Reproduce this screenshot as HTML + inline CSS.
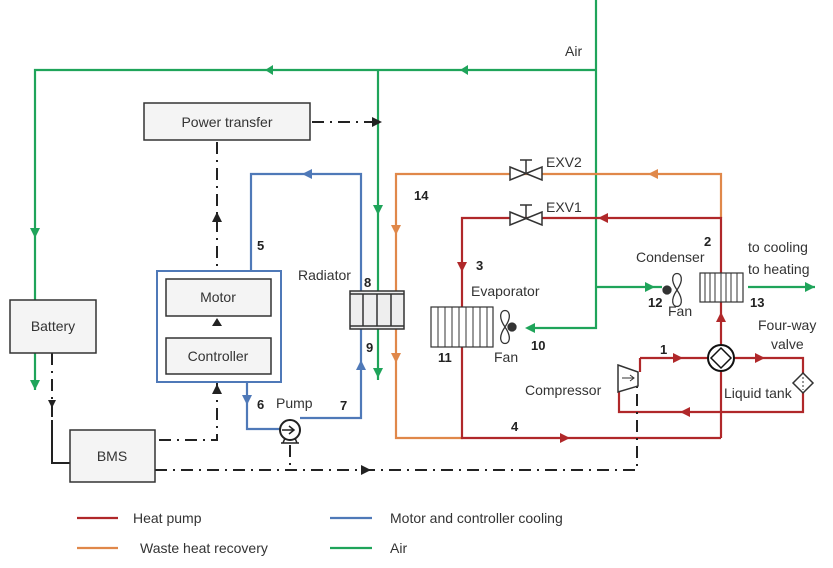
<!DOCTYPE html>
<html><head><meta charset="utf-8"><style>
body{margin:0;background:#fff}
svg{display:block;font-family:"Liberation Sans",sans-serif}
.b{fill:#f4f4f4;stroke:#333;stroke-width:1.5}
</style></head><body>
<svg width="833" height="568" viewBox="0 0 833 568">
<g fill="none" stroke-width="2.2">
<path d="M596,0 V328 H530 M596,287 H662 M596,70 H35 V390 M378,70 V380 M748,287 H815" stroke="#1fa45a"/>
<path d="M721,218 V174 H396 V438 H463" stroke="#e0884a"/>
<path d="M721,438 V218 H462 V438 H721 M640,358 H803 V412 H619 V392 M640,358 V372" stroke="#b0282a"/>
<path d="M251,271 V174 H361 V418 H300 M247,382 V429 H282" stroke="#4f79b8"/>
<g stroke="#222" stroke-width="2" stroke-dasharray="12,6,2,6">
<path d="M312,122 H372 M217,142 V268 M217,382 V440 H155 M155,470 H637 V380 M290,445 V470 M52,353 V420"/>
</g>
<path d="M52,420 V463 H70" stroke="#222" stroke-width="2"/>
</g>
<g fill="#1fa45a">
<path d="M265,65 L273,70 L265,75z" transform="rotate(180 269 70)"/>
<path d="M460,65 L468,70 L460,75z" transform="rotate(180 464 70)"/>
<path d="M30,228 L40,228 L35,238z"/><path d="M30,380 L40,380 L35,390z"/>
<path d="M373,205 L383,205 L378,215z"/><path d="M373,368 L383,368 L378,378z"/>
<path d="M645,282 L655,287 L645,292z"/><path d="M805,282 L815,287 L805,292z"/>
<path d="M535,323 L525,328 L535,333z"/>
</g>
<g fill="#e0884a">
<path d="M391,225 L401,225 L396,235z"/><path d="M391,353 L401,353 L396,363z"/>
<path d="M658,169 L648,174 L658,179z"/>
</g>
<g fill="#b0282a">
<path d="M608,213 L598,218 L608,223z"/><path d="M457,262 L467,262 L462,272z"/>
<path d="M560,433 L570,438 L560,443z"/><path d="M716,322 L726,322 L721,312z"/>
<path d="M673,353 L683,358 L673,363z"/><path d="M755,353 L765,358 L755,363z"/>
<path d="M690,407 L680,412 L690,417z"/>
</g>
<g fill="#4f79b8">
<path d="M312,169 L302,174 L312,179z"/><path d="M356,370 L366,370 L361,360z"/>
<path d="M242,395 L252,395 L247,405z"/>
</g>
<g fill="#222">
<path d="M372,117 L382,122 L372,127z"/>
<path d="M212,222 L222,222 L217,212z"/><path d="M212,326 L222,326 L217,318z"/>
<path d="M212,394 L222,394 L217,384z"/><path d="M48,400 L56,400 L52,408z"/>
<path d="M361,465 L371,470 L361,475z"/>
</g>
<rect x="144" y="103" width="166" height="37" class="b"/>
<text x="227" y="127" font-size="14" text-anchor="middle" fill="#333">Power transfer</text>
<rect x="10" y="300" width="86" height="53" class="b"/>
<text x="53" y="331" font-size="14" text-anchor="middle" fill="#333">Battery</text>
<rect x="157" y="271" width="124" height="111" fill="none" stroke="#4f79b8" stroke-width="2"/>
<rect x="166" y="279" width="105" height="37" class="b"/>
<text x="218" y="302" font-size="14" text-anchor="middle" fill="#333">Motor</text>
<rect x="166" y="338" width="105" height="36" class="b"/>
<text x="218" y="361" font-size="14" text-anchor="middle" fill="#333">Controller</text>
<rect x="70" y="430" width="85" height="52" class="b"/>
<text x="112" y="461" font-size="14" text-anchor="middle" fill="#333">BMS</text>
<rect x="350" y="291" width="54" height="38" fill="#eee" stroke="#333" stroke-width="1.5"/>
<path d="M350,294 H404 M350,326 H404 M363,294 V326 M377,294 V326 M391,294 V326" stroke="#333" stroke-width="1.5"/>
<rect x="431" y="307" width="62" height="40" fill="#fff" stroke="#333" stroke-width="1.2"/>
<path d="M438,307V347M445,307V347M452,307V347M459,307V347M466,307V347M473,307V347M480,307V347M487,307V347" stroke="#333" stroke-width="1"/>
<rect x="700" y="273" width="43" height="29" fill="#fff" stroke="#333" stroke-width="1.2"/>
<path d="M705,273V302M710,273V302M715,273V302M721,273V302M726,273V302M731,273V302M737,273V302" stroke="#333" stroke-width="1"/>
<g fill="#fff" stroke="#333" stroke-width="1.3">
<path d="M505,327 C490,305 520,305 505,327 C490,349 520,349 505,327z"/>
<circle cx="512" cy="327" r="4" fill="#333"/>
<path d="M677,290 C662,268 692,268 677,290 C662,312 692,312 677,290z"/>
<circle cx="667" cy="290" r="4" fill="#333"/>
</g>
<g fill="#fff" stroke="#333" stroke-width="1.5">
<path d="M510,167 L542,180 L542,167 L510,180z"/><path d="M526,173 V160 M520,160 H532"/>
<path d="M510,212 L542,225 L542,212 L510,225z"/><path d="M526,218 V205 M520,205 H532"/>
</g>
<circle cx="721" cy="358" r="13" fill="#fff" stroke="#111" stroke-width="2"/>
<path d="M721,348 L731,358 L721,368 L711,358z" fill="#fff" stroke="#111" stroke-width="1.5"/>
<path d="M803,373 L813,383 L803,393 L793,383z" fill="#fff" stroke="#333" stroke-width="1.5"/>
<path d="M803,377V390" stroke="#333" stroke-dasharray="2,2"/>
<path d="M618,365 L638,372 L638,386 L618,392z" fill="#fff" stroke="#333" stroke-width="1.5"/>
<path d="M622,378 H634 M630,375 L634,378 L630,381" stroke="#333" fill="none"/>
<circle cx="290" cy="430" r="10" fill="#fff" stroke="#222" stroke-width="2"/>
<path d="M282,430 H293 M289,426 L294,430 L289,434 M281,443 H299 M285,438 L283,443 M295,438 L297,443" stroke="#222" fill="none" stroke-width="1.5"/>
<g font-size="14" fill="#333">
<text x="565" y="56">Air</text>
<text x="546" y="167">EXV2</text><text x="546" y="212">EXV1</text>
<text x="298" y="280">Radiator</text>
<text x="471" y="296">Evaporator</text>
<text x="636" y="262">Condenser</text>
<text x="748" y="252">to cooling</text><text x="748" y="274">to heating</text>
<text x="758" y="330">Four-way</text><text x="771" y="349">valve</text>
<text x="525" y="395">Compressor</text>
<text x="724" y="398">Liquid tank</text>
<text x="494" y="362">Fan</text><text x="668" y="316">Fan</text>
<text x="276" y="408">Pump</text>
</g>
<g font-size="13" font-weight="bold" fill="#222">
<text x="414" y="200">14</text><text x="704" y="246">2</text><text x="476" y="270">3</text>
<text x="257" y="250">5</text><text x="364" y="287">8</text><text x="366" y="352">9</text>
<text x="257" y="409">6</text><text x="340" y="410">7</text>
<text x="438" y="362">11</text><text x="531" y="350">10</text>
<text x="648" y="307">12</text><text x="750" y="307">13</text>
<text x="660" y="354">1</text><text x="511" y="431">4</text>
</g>
<g stroke-width="2.2">
<path d="M77,518 H118" stroke="#b0282a"/><path d="M330,518 H372" stroke="#4f79b8"/>
<path d="M77,548 H118" stroke="#e0884a"/><path d="M330,548 H372" stroke="#1fa45a"/>
</g>
<g font-size="14" fill="#333">
<text x="133" y="523">Heat pump</text><text x="390" y="523">Motor and controller cooling</text>
<text x="140" y="553">Waste heat recovery</text><text x="390" y="553">Air</text>
</g>
</svg>
</body></html>
